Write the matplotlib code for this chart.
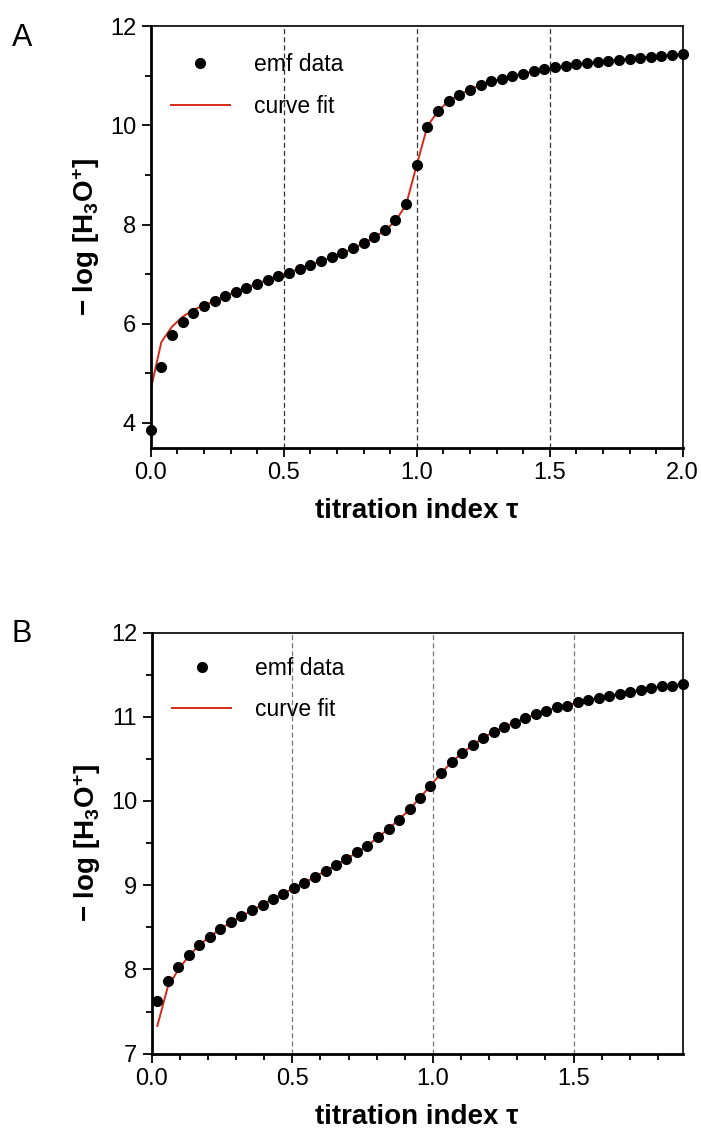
import matplotlib
matplotlib.use("Agg")
import matplotlib.pyplot as plt
from matplotlib.ticker import MultipleLocator

plt.rcParams['font.family'] = ['Liberation Sans', 'DejaVu Sans']
plt.rcParams['mathtext.fontset'] = 'custom'
plt.rcParams['mathtext.rm'] = 'Liberation Sans'
plt.rcParams['mathtext.bf'] = 'Liberation Sans:bold'
plt.rcParams['mathtext.it'] = 'Liberation Sans:italic'

# ---------------- Panel A data ----------------
tau_a = [0.00, 0.04, 0.08, 0.12, 0.16, 0.20, 0.24, 0.28, 0.32, 0.36,
         0.40, 0.44, 0.48, 0.52, 0.56, 0.60, 0.64, 0.68, 0.72, 0.76,
         0.80, 0.84, 0.88, 0.92, 0.96, 1.00, 1.04, 1.08, 1.12, 1.16,
         1.20, 1.24, 1.28, 1.32, 1.36, 1.40, 1.44, 1.48, 1.52, 1.56,
         1.60, 1.64, 1.68, 1.72, 1.76, 1.80, 1.84, 1.88, 1.92, 1.96, 2.00]
emf_a = [3.86, 5.13, 5.77, 6.03, 6.21, 6.35, 6.46, 6.56, 6.65, 6.73,
         6.81, 6.89, 6.97, 7.03, 7.11, 7.19, 7.26, 7.34, 7.42, 7.52,
         7.62, 7.75, 7.89, 8.09, 8.42, 9.20, 9.96, 10.29, 10.49, 10.62,
         10.72, 10.82, 10.89, 10.94, 11.00, 11.04, 11.09, 11.13, 11.17, 11.20,
         11.23, 11.25, 11.28, 11.30, 11.32, 11.35, 11.37, 11.39, 11.41, 11.42, 11.44]
fit_a = [4.67, 5.63, 5.94, 6.14, 6.28, 6.37, 6.46, 6.56, 6.65, 6.73,
         6.81, 6.89, 6.97, 7.03, 7.11, 7.19, 7.26, 7.34, 7.42, 7.52,
         7.62, 7.74, 7.88, 8.07, 8.40, 9.20, 9.98, 10.29, 10.49, 10.62,
         10.72, 10.82, 10.89, 10.94, 11.00, 11.04, 11.09, 11.13, 11.17, 11.20,
         11.23, 11.25, 11.28, 11.30, 11.32, 11.35, 11.37, 11.39, 11.41, 11.42, 11.44]

# ---------------- Panel B data ----------------
tau_b = [0.020, 0.057, 0.095, 0.132, 0.169, 0.207, 0.244, 0.282, 0.319, 0.356,
         0.394, 0.431, 0.468, 0.506, 0.543, 0.580, 0.618, 0.655, 0.692, 0.730,
         0.767, 0.805, 0.842, 0.879, 0.917, 0.954, 0.991, 1.029, 1.066, 1.103,
         1.141, 1.178, 1.216, 1.253, 1.290, 1.328, 1.365, 1.402, 1.440, 1.477,
         1.514, 1.552, 1.589, 1.626, 1.664, 1.701, 1.739, 1.776, 1.813, 1.851, 1.888]
emf_b = [7.62, 7.86, 8.03, 8.17, 8.29, 8.39, 8.48, 8.56, 8.63, 8.70,
         8.77, 8.84, 8.90, 8.97, 9.03, 9.10, 9.17, 9.24, 9.31, 9.39,
         9.47, 9.57, 9.67, 9.78, 9.90, 10.04, 10.18, 10.33, 10.46, 10.57,
         10.66, 10.75, 10.82, 10.88, 10.93, 10.98, 11.03, 11.07, 11.11, 11.13,
         11.17, 11.20, 11.22, 11.25, 11.27, 11.29, 11.32, 11.34, 11.36, 11.37, 11.39]
fit_b = [7.33, 7.79, 8.00, 8.16, 8.29, 8.39, 8.48, 8.56, 8.63, 8.70,
         8.77, 8.84, 8.90, 8.97, 9.03, 9.10, 9.17, 9.24, 9.31, 9.39,
         9.47, 9.57, 9.67, 9.78, 9.90, 10.04, 10.18, 10.33, 10.46, 10.57,
         10.66, 10.75, 10.82, 10.88, 10.93, 10.98, 11.03, 11.07, 11.11, 11.13,
         11.17, 11.20, 11.22, 11.25, 11.27, 11.29, 11.32, 11.34, 11.36, 11.37, 11.39]

ref_lines = [0.5, 1.0, 1.5]
legend_labels = ["emf data", "curve fit"]
xlabel = "titration index τ"
ylabel = r"$\mathbf{-\ log\ [H_3O^{+}]}$"

RED = '#d8281a'
W, H = 701, 1128
fig = plt.figure(figsize=(W / 100, H / 100), dpi=100)


def setup(ax, xmax, ylo, yhi, ymaj, ymin_, dash_color):
    ax.set_xlim(0, xmax)
    ax.set_ylim(ylo, yhi)
    ax.xaxis.set_major_locator(MultipleLocator(0.5))
    ax.xaxis.set_minor_locator(MultipleLocator(0.1))
    ax.yaxis.set_major_locator(MultipleLocator(ymaj))
    ax.yaxis.set_minor_locator(MultipleLocator(ymin_))
    ax.xaxis.set_major_formatter(plt.FormatStrFormatter('%.1f'))
    ax.yaxis.set_major_formatter(plt.FormatStrFormatter('%d'))
    for s in ['left', 'bottom']:
        ax.spines[s].set_linewidth(2.0)
    for s in ['top', 'right']:
        ax.spines[s].set_linewidth(1.2)
    ax.tick_params(which='both', direction='out', top=False, right=False,
                   labelsize=17, pad=4)
    ax.tick_params(which='major', length=6.5, width=1.3)
    ax.tick_params(which='minor', length=4, width=1.3)
    for xv in ref_lines:
        ax.axvline(xv, color=dash_color, lw=0.9, ls=(0, (4, 2.5)), zorder=1)
    ax.set_xlabel(xlabel, fontsize=20, fontweight='bold', labelpad=10)
    ax.set_ylabel(ylabel, fontsize=20, labelpad=6)


def draw(ax, x, d, f, legend_xy):
    ax.plot(x, f, color=RED, lw=1.4, zorder=2, label=legend_labels[1])
    ax.plot(x, d, 'o', color='black', ms=7, zorder=3, clip_on=False,
            label=legend_labels[0])
    h, l = ax.get_legend_handles_labels()
    ax.legend([h[1], h[0]], [l[1], l[0]], loc='center left',
              bbox_to_anchor=legend_xy, frameon=False, fontsize=16.5,
              handlelength=2.6, handletextpad=1.05, labelspacing=0.8,
              borderpad=0, borderaxespad=0, numpoints=1)


# Panel A
axA = fig.add_axes([150.7 / W, 1 - 447.7 / H, (682.7 - 150.7) / W, (447.7 - 26.3) / H])
setup(axA, 2.0, 3.5, 12, 2, 1, '#333333')
draw(axA, tau_a, emf_a, fit_a, (0.0376, 0.8596))

# Panel B
axB = fig.add_axes([151.7 / W, 1 - 1053.7 / H, (682.7 - 151.7) / W, (1053.7 - 632.5) / H])
setup(axB, 1.888, 7, 12, 1, 0.5, '#777777')
draw(axB, tau_b, emf_b, fit_b, (0.0377, 0.866))

fig.text(22 / W, 1 - 38 / H, "A", fontsize=22, ha='center', va='center')
fig.text(22 / W, 1 - 634 / H, "B", fontsize=22, ha='center', va='center')

fig.savefig("out.png", dpi=100)
